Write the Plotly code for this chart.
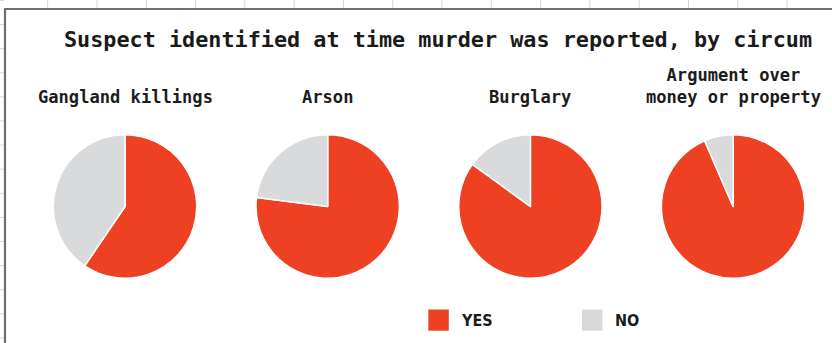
import plotly.graph_objects as go

# Share of murders where a suspect was identified at time of report
circumstances = ["Gangland killings", "Arson", "Burglary", "Argument over<br>money or property"]
yes_pct = [59.5, 77, 85, 93.5]
no_pct = [100 - v for v in yes_pct]
answer_labels = ["YES", "NO"]
answer_colors = ["#EE4123", "#D9DADC"]

title_text = "Suspect identified at time murder was reported, by circum"

W, H = 832, 343
MONO = "DejaVu Sans Mono"
NARROW = "Liberation Sans Narrow, Arial Narrow, DejaVu Sans Condensed, sans-serif"

fig = go.Figure()

# pie layout in pixels
cx0, dx, cy, r = 125.0, 202.7, 206.5, 71.7

for i, (name, y, n) in enumerate(zip(circumstances, yes_pct, no_pct)):
    cx = cx0 + i * dx
    fig.add_trace(go.Pie(
        labels=answer_labels,
        values=[y, n],
        sort=False,
        direction="clockwise",
        rotation=0,
        textinfo="none",
        hoverinfo="label+percent",
        marker=dict(colors=answer_colors, line=dict(color="white", width=1.5)),
        domain=dict(x=[(cx - r) / W, (cx + r) / W], y=[1 - (cy + r) / H, 1 - (cy - r) / H]),
        showlegend=False,
    ))
    fig.add_annotation(
        x=cx / W, y=1 - 109 / H, xref="paper", yref="paper",
        text=f"<b>{name}</b>", showarrow=False, xanchor="center", yanchor="bottom",
        font=dict(family=MONO, size=17.1, color="#1c1c1c"), align="center",
    )

shapes = []
# spreadsheet grid peeking out around the panel
grid = "#d6d6d6"
k = 0
while 47.7 + 49.29 * k < W:
    x = 47.7 + 49.29 * k
    shapes.append(dict(type="line", xref="paper", yref="paper", x0=x / W, x1=x / W,
                       y0=1 - 8 / H, y1=1, line=dict(color=grid, width=1)))
    k += 1
k = 0
while 0.5 + 24.1 * k < H:
    y = 0.5 + 24.1 * k
    shapes.append(dict(type="line", xref="paper", yref="paper", x0=0, x1=4 / W,
                       y0=1 - y / H, y1=1 - y / H, line=dict(color=grid, width=1)))
    k += 1
# white panel with grey frame
shapes.append(dict(type="rect", xref="paper", yref="paper", x0=5 / W, x1=1.05,
                   y0=-0.05, y1=1 - 9 / H, fillcolor="white", layer="below",
                   line=dict(color="#6e6e6e", width=2.2)))

# legend swatches
legend_x = [428.3, 582.0]
for lx, lab, col in zip(legend_x, answer_labels, answer_colors):
    shapes.append(dict(type="rect", xref="paper", yref="paper", x0=lx / W, x1=(lx + 20.5) / W,
                       y0=1 - 330.7 / H, y1=1 - 309.5 / H, fillcolor=col, line=dict(width=0)))
    fig.add_annotation(
        x=(lx + 31) / W, y=1 - 320.5 / H, xref="paper", yref="paper",
        text=f"<b>{lab}</b>", showarrow=False, xanchor="left", yanchor="middle",
        font=dict(family=NARROW, size=16, color="#1c1c1c"),
    )

fig.add_annotation(
    x=62 / W, y=1 - 39.5 / H, xref="paper", yref="paper",
    text=f"<b>{title_text}</b>", showarrow=False, xanchor="left", yanchor="middle",
    font=dict(family=MONO, size=21.8, color="#1a1a1a"),
)

fig.update_layout(
    width=W, height=H,
    margin=dict(l=0, r=0, t=0, b=0),
    paper_bgcolor="white",
    plot_bgcolor="white",
    shapes=shapes,
)

fig.write_html("out.html")
